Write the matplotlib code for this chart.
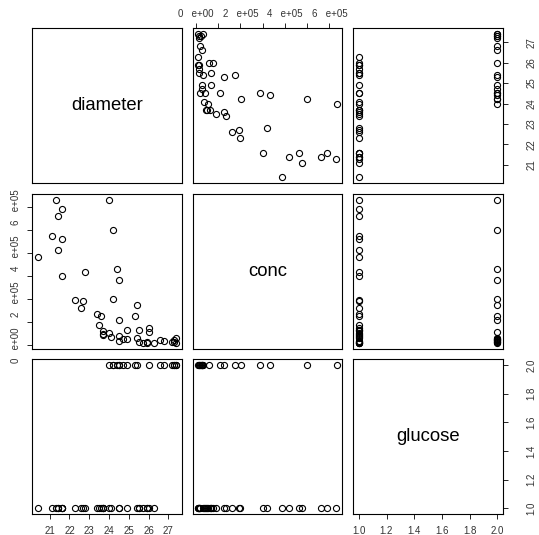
import matplotlib
matplotlib.use("Agg")
import matplotlib.pyplot as plt

plt.rcParams['font.family'] = ['Liberation Sans', 'DejaVu Sans']

diameter = [21.3, 24.0, 21.6, 21.4, 21.1, 21.6, 24.2, 21.4, 20.4, 21.6,
            22.8, 24.4, 24.5, 22.3, 22.7, 22.6, 24.2, 25.4, 23.4, 23.6,
            25.3, 23.5, 24.5, 23.7, 23.7, 23.7, 24.0, 24.1, 24.9, 25.5,
            26.0, 26.0, 24.5, 24.7, 24.5, 24.9, 25.4, 25.5, 25.7, 25.9,
            25.9, 26.3, 26.6, 26.8, 27.2, 27.3, 27.4, 27.4, 27.3]
conc = [631000, 632000, 591000, 562000, 475000, 461000, 500000, 416000, 385000, 301000,
        321000, 331000, 286000, 199000, 195000, 164000, 202000, 174000, 137000, 128000,
        128000, 89000, 109000, 64000, 49000, 44000, 54000, 36000, 68000, 67000,
        76000, 58000, 39000, 28000, 19000, 28000, 32000, 15000, 12000, 15000,
        11000, 10000, 25000, 19000, 13000, 22000, 33000, 10000, 15000]
glucose = [1, 2, 1, 1, 1, 1, 2, 1, 1, 1,
           1, 2, 2, 1, 1, 1, 2, 2, 1, 1,
           2, 1, 2, 1, 1, 1, 1, 1, 1, 1,
           1, 2, 1, 2, 1, 2, 1, 1, 1, 1,
           1, 1, 2, 2, 2, 2, 2, 2, 2]
var_names = ["diameter", "conc", "glucose"]

diam_ticks = [21, 22, 23, 24, 25, 26, 27]
diam_labels = ["21", "22", "23", "24", "25", "26", "27"]
conc_ticks = [0, 100000, 200000, 300000, 400000, 500000, 600000]
conc_labels = ["0   e+00", "", "2   e+05", "", "4   e+05", "", "6   e+05"]
gluc_ticks = [1.0, 1.2, 1.4, 1.6, 1.8, 2.0]
gluc_labels = ["1.0", "1.2", "1.4", "1.6", "1.8", "2.0"]

data = [diameter, conc, glucose]
ticks = [diam_ticks, conc_ticks, gluc_ticks]
labels = [diam_labels, conc_labels, gluc_labels]

W, H = 539, 535
fig = plt.figure(figsize=(W / 100, H / 100), dpi=100)

col_x = [32.3, 192.7, 353.3]
row_y = [28.3, 194.3, 359.3]
pw, ph = 149.4, 154.6


def rlim(v):
    lo, hi = min(v), max(v)
    r = hi - lo
    return lo - 0.04 * r, hi + 0.04 * r


lims = [rlim(v) for v in data]
PX = 100 / 72.0
tick_len = 5 / PX
fs_tick = 7.0
tick_col = '#333333'

for i in range(3):
    for j in range(3):
        rect = [col_x[j] / W, 1 - (row_y[i] + ph) / H, pw / W, ph / H]
        ax = fig.add_axes(rect)
        ax.set_xlim(lims[j])
        ax.set_ylim(lims[i])
        for s in ax.spines.values():
            s.set_linewidth(0.8)
            s.set_color('black')
        ax.tick_params(which='both', bottom=False, top=False, left=False, right=False,
                       labelbottom=False, labeltop=False, labelleft=False, labelright=False)
        if i == j:
            ax.text(0.5, 0.5, var_names[i], transform=ax.transAxes,
                    ha='center', va='center', fontsize=13.3)
        else:
            ax.plot(data[j], data[i], linestyle='none', marker='o', markersize=4.4,
                    markerfacecolor='none', markeredgecolor='black', markeredgewidth=0.8)
        # x axes: col 0 and col 2 at bottom (row 2); col 1 at top (row 0)
        if (i == 2 and j in (0, 2)) or (i == 0 and j == 1):
            ax.set_xticks(ticks[j])
            ax.set_xticklabels(labels[j])
            if i == 2:
                ax.tick_params(axis='x', bottom=True, labelbottom=True, direction='out',
                               length=tick_len, width=0.6, labelsize=fs_tick, pad=5.0,
                               labelcolor=tick_col)
            else:
                ax.tick_params(axis='x', top=True, labeltop=True, direction='out',
                               length=tick_len, width=0.6, labelsize=fs_tick, pad=3.4,
                               labelcolor=tick_col)
        else:
            ax.set_xticks([])
        # y axes: row 0 and row 2 at right (col 2); row 1 at left (col 0)
        if (j == 2 and i in (0, 2)) or (j == 0 and i == 1):
            ax.set_yticks(ticks[i])
            ax.set_yticklabels(labels[i], rotation=90, va='center')
            if j == 2:
                ax.tick_params(axis='y', right=True, labelright=True, direction='out',
                               length=tick_len, width=0.6, labelsize=fs_tick, pad=13.5,
                               labelcolor=tick_col)
            else:
                ax.tick_params(axis='y', left=True, labelleft=True, direction='out',
                               length=tick_len, width=0.6, labelsize=fs_tick, pad=4.6,
                               labelcolor=tick_col)
        else:
            ax.set_yticks([])

fig.savefig("out.png", dpi=100)
